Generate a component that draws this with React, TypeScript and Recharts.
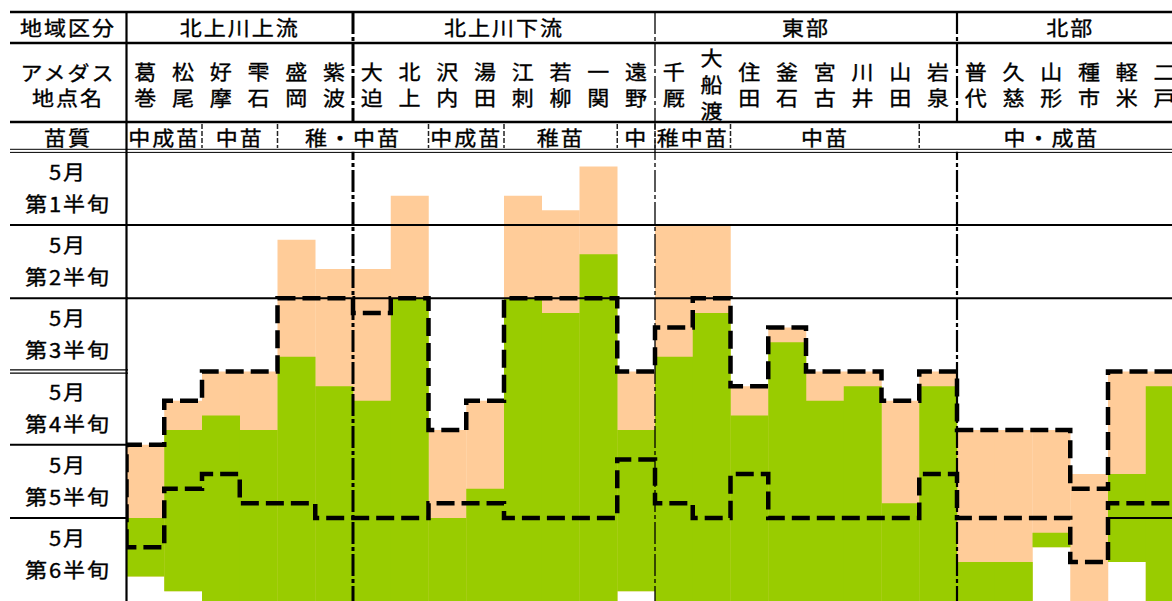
import React from "react";
import { ComposedChart, Bar, Line, XAxis, YAxis, ReferenceLine } from "recharts";

// アメダス地点名
const stations = [
  "葛巻", "松尾", "好摩", "雫石", "盛岡", "紫波",
  "大迫", "北上", "沢内", "湯田", "江刺", "若柳", "一関", "遠野",
  "千厩", "大船渡", "住田", "釜石", "宮古", "川井", "山田", "岩泉",
  "普代", "久慈", "山形", "種市", "軽米", "二戸",
];

// 地域区分 and how many stations each one covers
const regions = ["北上川上流", "北上川下流", "東部", "北部"];
const regionSizes = [6, 8, 8, 6];

// 苗質 cells
const naeLabels = ["中成苗", "中苗", "稚・中苗", "中成苗", "稚苗", "中", "稚中苗", "中苗", "中・成苗"];
const naeSizes = [2, 2, 4, 2, 3, 1, 2, 5, 7];

const rowMonth = "5月";
const rowLabels = ["第1半旬", "第2半旬", "第3半旬", "第4半旬", "第5半旬", "第6半旬"];

// day of May (1 = top of 第1半旬)
const orangeStart = [21, 18, 16, 16, 7, 9, 9, 4, 20, 18, 4, 5, 2, 16, 6, 6, 17, 13, 16, 16, 18, 16, 20, 20, 20, 23, 16, 16];
const greenStart = [26, 20, 19, 20, 15, 17, 18, 11, 26, 24, 11, 12, 8, 20, 15, 12, 19, 14, 18, 17, 25, 17, 29, 29, 27, null, 23, 17];
const periodEnd = [30, 31, 33, 33, 33, 33, 33, 33, 33, 33, 33, 33, 33, 31, 33, 33, 33, 33, 33, 33, 33, 33, 33, 33, 28, 33, 29, 33];
const earlyLine = [21, 18, 16, 16, 11, 11, 12, 11, 20, 18, 11, 11, 11, 16, 13, 11, 17, 13, 16, 16, 18, 16, 20, 20, 20, 24, 16, 16];
const lateLine = [28, 24, 23, 25, 25, 26, 26, 26, 25, 25, 26, 26, 26, 22, 25, 26, 23, 26, 26, 26, 26, 23, 26, 26, 26, 29, 25, 25];

// layout
const X0 = 126.5;
const COL_W = 37.75;
const Y0 = 151.75;
const ROW_H = 73.25;
const DAY_H = ROW_H / 5;
const LEFT = 10;
const W = 1172;
const H = 601;
const CHART_W = X0 + stations.length * COL_W;
const CHART_H = 640;
const yMax = 1 + (CHART_H - Y0) / DAY_H;
const LABEL_X = 68;
const FONT = '"Noto Sans CJK JP", "Noto Sans", sans-serif';

const rows = stations.map((name, i) => ({
  name,
  orange: [orangeStart[i], periodEnd[i]],
  green: greenStart[i] == null ? null : [greenStart[i], periodEnd[i]],
}));

// dashed band: left edge, early line forward, late line back
const band: { x: number; y: number }[] = [{ x: 0, y: lateLine[0] }];
earlyLine.forEach((v, i) => band.push({ x: i, y: v }, { x: i + 1, y: v }));
for (let i = lateLine.length - 1; i >= 0; i--) band.push({ x: i + 1, y: lateLine[i] }, { x: i, y: lateLine[i] });

const rowTicks = rowLabels.map((_, i) => 3.5 + 5 * i);

const cum = (sizes: number[]) => sizes.reduce<number[]>((a, s) => [...a, (a[a.length - 1] ?? 0) + s], []);
const regionEnds = cum(regionSizes).slice(0, -1);
const sepStyles = [
  { w: 3, dash: "22 3 4 3" },
  { w: 1.3, dash: "22 3 4 3" },
  { w: 2.2, dash: "22 3 4 3" },
];
const colX = (i: number) => X0 + i * COL_W;

// one text element, one or more lines (ys are absolute centres)
function Txt({ x, ys, lines, spacing = 1.8 }: { x: number; ys: number[]; lines: string[]; spacing?: number }) {
  return (
    <text
      transform={`translate(${x},0) scale(1.1,1)`}
      textAnchor="middle"
      dominantBaseline="central"
      fontFamily={FONT}
      fontSize={20}
      letterSpacing={spacing}
      fill="#000"
      stroke="#000"
      strokeWidth={0.35}
    >
      {lines.map((l, i) => (
        <tspan key={i} x={0} y={ys[i]} dominantBaseline="central">
          {l}
        </tspan>
      ))}
    </text>
  );
}

function StationTick(props: any) {
  const { x, payload } = props;
  const chars = Array.from(String(payload.value));
  const ys = chars.length === 3 ? [57.5, 84, 110.5] : [71.5, 97.5];
  return <Txt x={x} ys={ys} lines={chars} spacing={0} />;
}

function RowTick(props: any) {
  const { y, payload } = props;
  const idx = Math.round((payload.value - 3.5) / 5);
  return <Txt x={LABEL_X} ys={[y - 17, y + 15]} lines={[rowMonth, rowLabels[idx]]} />;
}

function Header() {
  const naeEnds = cum(naeSizes);
  const regionAll = cum(regionSizes);
  return (
    <svg width={W} height={H} style={{ position: "absolute", left: 0, top: 0, pointerEvents: "none" }}>
      {[12, 43, 122].map((y) => (
        <line key={y} x1={LEFT} x2={W} y1={y} y2={y} stroke="#000" strokeWidth={2.5} />
      ))}
      <line x1={LEFT} x2={W} y1={149.3} y2={149.3} stroke="#000" strokeWidth={1} />
      <line x1={LEFT} x2={W} y1={152.4} y2={152.4} stroke="#000" strokeWidth={1} />
      <line x1={X0} x2={X0} y1={12} y2={H} stroke="#000" strokeWidth={2.2} />
      {rowLabels.slice(1).map((_, k) => {
        const y = Y0 + (k + 1) * ROW_H;
        return k === 2 ? (
          <g key={k}>
            <line x1={LEFT} x2={X0 + 1.5} y1={y - 1.6} y2={y - 1.6} stroke="#000" strokeWidth={1.1} />
            <line x1={LEFT} x2={X0 + 1.5} y1={y + 1.6} y2={y + 1.6} stroke="#000" strokeWidth={1.1} />
          </g>
        ) : (
          <line key={k} x1={LEFT} x2={X0 + 1.5} y1={y} y2={y} stroke="#000" strokeWidth={2} />
        );
      })}
      {regionEnds.map((c, i) => (
        <line
          key={c}
          x1={colX(c)}
          x2={colX(c)}
          y1={12}
          y2={i === 1 ? 152 : 122}
          stroke="#000"
          strokeWidth={sepStyles[i].w}
          strokeDasharray={sepStyles[i].dash}
        />
      ))}
      {naeEnds.slice(0, -1).map((c) => (
        <line key={c} x1={colX(c)} x2={colX(c)} y1={124} y2={148} stroke="#222" strokeWidth={1.5} strokeDasharray="5 2" />
      ))}
      <Txt x={LABEL_X} ys={[27.5]} lines={["地域区分"]} />
      <Txt x={LABEL_X} ys={[72, 97.5]} lines={["アメダス", "地点名"]} />
      <Txt x={LABEL_X} ys={[137]} lines={["苗質"]} />
      {regions.map((r, i) => {
        const a = i === 0 ? 0 : regionAll[i - 1];
        return <Txt key={r} x={(colX(a) + colX(regionAll[i])) / 2} ys={[27.5]} lines={[r]} />;
      })}
      {naeLabels.map((n, i) => {
        const a = i === 0 ? 0 : naeEnds[i - 1];
        return <Txt key={i} x={(colX(a) + colX(naeEnds[i])) / 2} ys={[137]} lines={[n]} />;
      })}
    </svg>
  );
}

export default function App() {
  return (
    <div style={{ position: "fixed", left: 0, top: 0, width: W, height: H, overflow: "hidden", background: "#fff" }}>
      <ComposedChart
        width={CHART_W}
        height={CHART_H}
        data={rows}
        margin={{ top: 43, right: 0, bottom: 0, left: LEFT }}
        barCategoryGap={0}
        barGap={0}
      >
        <XAxis
          xAxisId="ba"
          dataKey="name"
          type="category"
          orientation="top"
          height={Y0 - 43}
          axisLine={false}
          tickLine={false}
          interval={0}
          tick={StationTick}
        />
        <XAxis xAxisId="bb" dataKey="name" type="category" hide />
        <XAxis xAxisId="line" dataKey="x" type="number" domain={[0, stations.length]} allowDataOverflow hide />
        <YAxis
          type="number"
          reversed
          domain={[1, yMax]}
          allowDataOverflow
          ticks={rowTicks}
          interval={0}
          width={X0 - LEFT}
          axisLine={false}
          tickLine={false}
          tick={RowTick}
        />
        <Bar xAxisId="ba" dataKey="orange" fill="#FFCC99" isAnimationActive={false} />
        <Bar xAxisId="bb" dataKey="green" fill="#99CC00" isAnimationActive={false} />
        <Line
          xAxisId="line"
          data={band}
          dataKey="y"
          type="linear"
          stroke="#000"
          strokeWidth={4.5}
          strokeDasharray="18 7"
          dot={false}
          activeDot={false}
          isAnimationActive={false}
        />
        {[6, 11].map((d) => (
          <ReferenceLine key={d} xAxisId="line" y={d} stroke="#000" strokeWidth={2} />
        ))}
        <ReferenceLine
          xAxisId="line"
          segment={[{ x: 26, y: 26 }, { x: stations.length, y: 26 }]}
          stroke="#000"
          strokeWidth={2}
        />
        {regionEnds.map((c, i) => (
          <ReferenceLine
            key={c}
            xAxisId="line"
            x={c}
            stroke="#000"
            strokeWidth={sepStyles[i].w}
            strokeDasharray={sepStyles[i].dash}
          />
        ))}
      </ComposedChart>
      <Header />
    </div>
  );
}
